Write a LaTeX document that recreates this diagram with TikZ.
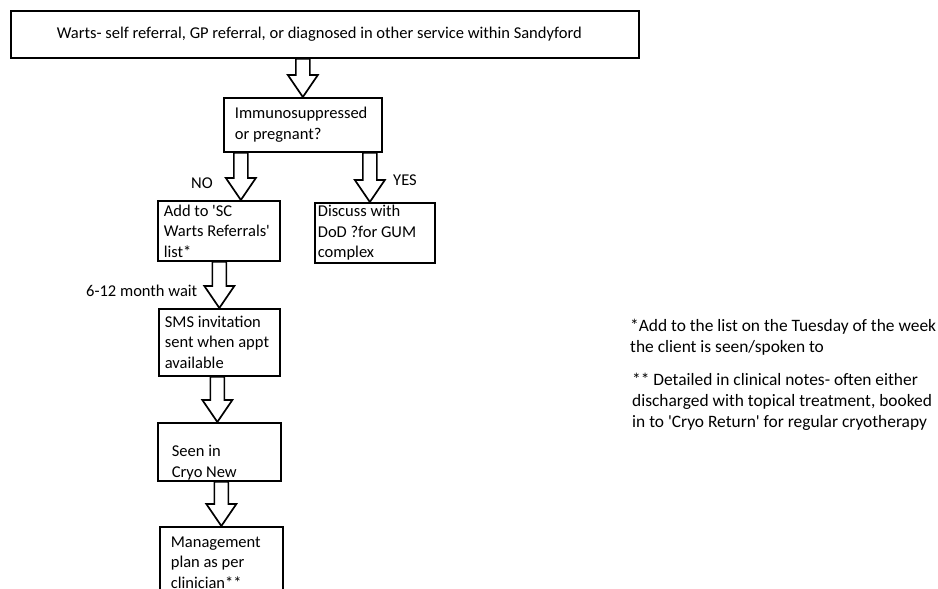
\documentclass[tikz,border=0pt]{standalone}
\usepackage{fontspec}
\setmainfont{Carlito}
\usetikzlibrary{calc}
\tikzset{
	box/.style={draw, line width=1.7pt, anchor=north west, align=flush left,
			inner ysep=0pt, font=\fontsize{16.5}{20.5}\selectfont},
	fatarrow/.style={draw, fill=white, line width=1.7pt, line join=miter,
			to path={let \p1=(\tikztostart), \p2=(\tikztotarget) in
					(\x1-7pt,\y1) -- (\x1-7pt,\y2+22pt) -- (\x1-15pt,\y2+22pt) -- (\x2,\y2)
					-- (\x1+15pt,\y2+22pt) -- (\x1+7pt,\y2+22pt) -- (\x1+7pt,\y1) -- cycle}},
	lbl/.style={font=\fontsize{16.5}{20.5}\selectfont, inner sep=0pt},
	note/.style={font=\fontsize{17.4}{21}\selectfont, inner sep=0pt, anchor=base west, align=left}
}

\begin{document}
\begin{tikzpicture}[x=1pt, y=-1pt]
		\useasboundingbox (0,0) rectangle (938,589);
		\clip (0,0) rectangle (938,589);

		% boxes
		\node[box, inner xsep=46pt, text width=536pt, minimum height=47pt] (start) at (10,10)
			{\mbox{Warts- self referral, GP referral, or diagnosed in other service within Sandyford}};
		\node[box, inner xsep=11pt, text width=136pt, minimum height=54pt] (imm) at (223,97)
			{\mbox{Immunosuppressed}\\or pregnant?};
		\node[box, inner xsep=6pt, text width=110pt, minimum height=60pt] (add) at (157,200)
			{Add to \textquotesingle SC\\\mbox{Warts Referrals\textquotesingle}\\list*};
		\node[box, inner xsep=3pt, text width=114pt, minimum height=60pt] (disc) at (314,202)
			{Discuss with\\DoD ?for GUM\\complex};
		\node[box, inner xsep=6pt, text width=109pt, minimum height=67pt] (sms) at (158,308)
			{SMS invitation\\sent when appt\\available};
		\node[box, inner xsep=14pt, text width=95pt, minimum height=58pt] (seen) at (157,422)
			{\rule{0pt}{33pt}Seen in\\Cryo New};
		\node[box, inner xsep=11pt, text width=101pt, minimum height=71pt] (plan) at (159,526)
			{Management\\plan as per\\clinician**};

		% arrows
		\coordinate (nox) at ([xshift=22pt]add.north);
		\coordinate (yesx) at ([xshift=-5pt]disc.north);
		\draw[fatarrow] (start.south -| imm.north) to (imm.north);
		\draw[fatarrow] (nox |- imm.south) to (nox);
		\draw[fatarrow] (yesx |- imm.south) to (yesx);
		\draw[fatarrow] (add.south -| sms.north) to (sms.north);
		\draw[fatarrow] ([xshift=-2pt]sms.south) to ([xshift=-2pt]sms.north |- seen.north);
		\draw[fatarrow] (seen.south -| plan.north) to (plan.north);

		% labels
		\node[lbl] (no) at (202,183) {NO};
		\node[lbl] (yes) at (405,180) {YES};
		\node[lbl, anchor=west] (wait) at (86,291) {6-12 month wait};

		% notes
		\node[note] (note1) at (630,352)
			{*Add to the list on the Tuesday of the week\\the client is seen/spoken to};
		\node[note] (note2) at (632,427)
			{** Detailed in clinical notes- often either\\discharged with topical treatment, booked\\in to \textquotesingle Cryo Return\textquotesingle\ for regular cryotherapy};
	\end{tikzpicture}
\end{document}
